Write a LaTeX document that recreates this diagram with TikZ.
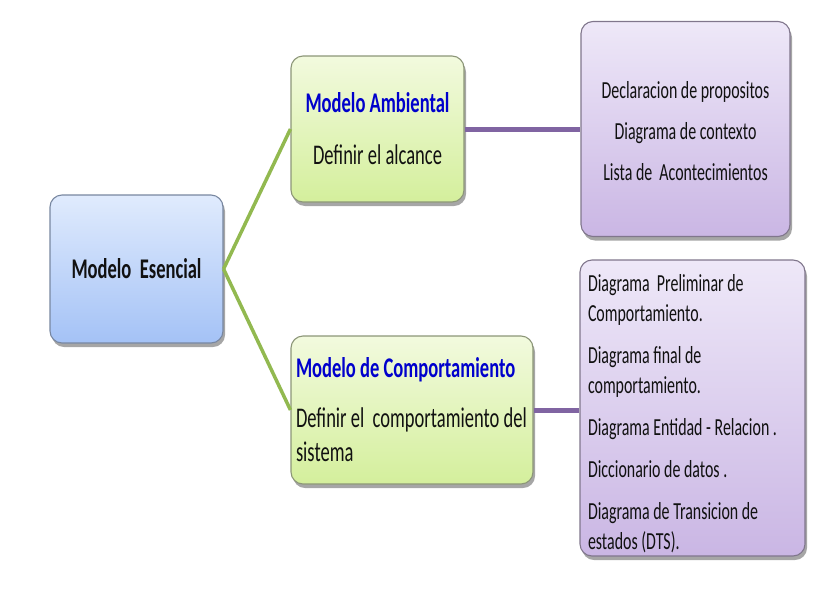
\documentclass[tikz,border=0pt]{standalone}
\usepackage{fontspec}
\newfontfamily\cf[FakeStretch=0.65]{Carlito}
\usetikzlibrary{shadows}
\definecolor{txt}{RGB}{17,17,17}
\definecolor{ttl}{RGB}{0,0,204}
\definecolor{bTop}{RGB}{224,235,253}
\definecolor{bBot}{RGB}{164,194,246}
\definecolor{bBrd}{RGB}{120,135,160}
\definecolor{gTop}{RGB}{242,250,222}
\definecolor{gBot}{RGB}{212,239,156}
\definecolor{gBrd}{RGB}{140,150,120}
\definecolor{pTop}{RGB}{238,232,248}
\definecolor{pBot}{RGB}{202,182,228}
\definecolor{pBrd}{RGB}{128,118,140}
\definecolor{gLine}{RGB}{146,185,80}
\definecolor{pLine}{RGB}{128,100,162}
\tikzset{
  boxbase/.style={draw, rounded corners=12pt, line width=1.1pt, inner ysep=0pt, inner xsep=6pt,
    drop shadow={shadow xshift=2pt, shadow yshift=-4pt, opacity=0.35, fill=black}, text=txt},
  bluebox/.style={boxbase, draw=bBrd, top color=bTop, bottom color=bBot},
  greenbox/.style={boxbase, draw=gBrd, top color=gTop, bottom color=gBot},
  purplebox/.style={boxbase, draw=pBrd, top color=pTop, bottom color=pBot},
  gconn/.style={draw=gLine, line width=3.5pt},
  pconn/.style={draw=pLine, line width=5pt},
}
\begin{document}
\begin{tikzpicture}[x=1pt,y=-1pt]
\useasboundingbox (0,0) rectangle (824,600);
\node[bluebox, minimum width=173pt, minimum height=148pt, align=center,
  font={\cf\fontsize{28.5}{34}\selectfont\bfseries}] (E) at (136.5,269)
  {Modelo\ \ Esencial};
\node[greenbox, minimum width=173pt, minimum height=146pt, align=center,
  font={\cf\fontsize{28.5}{52}\selectfont}] (A) at (377.5,129)
  {\textcolor{ttl}{\bfseries Modelo Ambiental}\\ Definir el alcance};
\node[purplebox, minimum width=209pt, minimum height=215pt, align=center,
  font={\cf\fontsize{24.5}{41}\selectfont}] (P1) at (685.5,129)
  {\rule{0pt}{22pt}Declaracion de propositos\\ Diagrama de contexto\\ Lista de\ \ Acontecimientos};
\node[greenbox, text width=232pt, inner xsep=5pt, minimum height=148pt, align=flush left,
  font={\cf\fontsize{28.5}{34}\selectfont}] (C) at (412,410)
  {\textcolor{ttl}{\bfseries Modelo de Comportamiento}\\[16pt] Definir el\ \ comportamiento del\\ sistema};
\node[purplebox, text width=209pt, inner xsep=8pt, minimum height=296pt, align=flush left,
  font={\cf\fontsize{24.5}{30}\selectfont}] (P2) at (692.5,408)
  {\rule{0pt}{28pt}Diagrama\ \ Preliminar de\\ Comportamiento.\\[12pt]
   Diagrama final de\\ comportamiento.\\[12pt]
   Diagrama Entidad - Relacion .\\[12pt]
   Diccionario de datos .\\[12pt]
   Diagrama de Transicion de\\ estados (DTS).};
\draw[gconn] (E.east) -- (A.west);
\draw[gconn] (E.east) -- (C.west);
\draw[pconn] (A.east) -- (P1.west);
\draw[pconn] (C.east) -- (C.east -| P2.west);
\end{tikzpicture}
\end{document}
